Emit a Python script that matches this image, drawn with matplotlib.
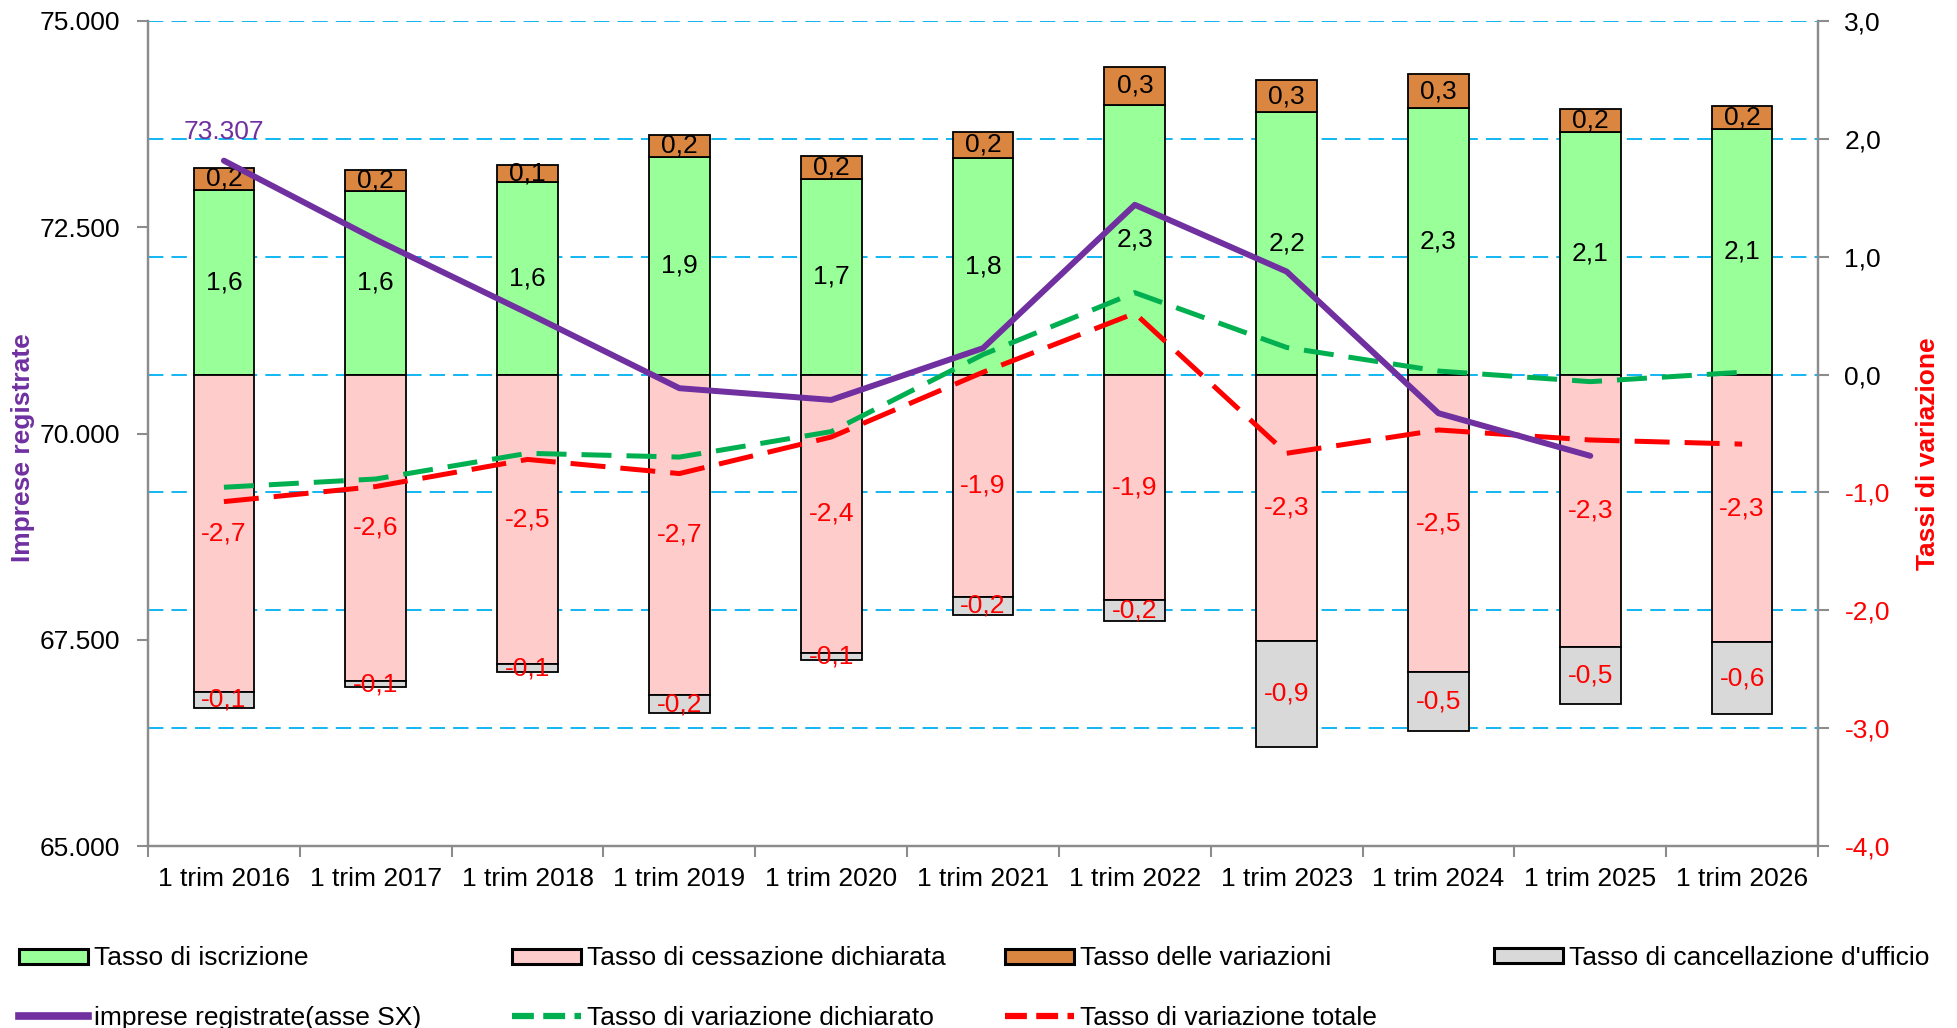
import numpy as np
import matplotlib.pyplot as plt
from matplotlib.lines import Line2D
from matplotlib.patches import Patch
from matplotlib.ticker import FuncFormatter, FixedLocator

plt.rcParams['font.family'] = ['Liberation Sans', 'DejaVu Sans']

# Data
periods = ['1 trim 2016', '1 trim 2017', '1 trim 2018', '1 trim 2019', '1 trim 2020',
           '1 trim 2021', '1 trim 2022', '1 trim 2023', '1 trim 2024', '1 trim 2025',
           '1 trim 2026']
iscrizione = [1.57, 1.56, 1.63, 1.85, 1.66, 1.84, 2.29, 2.23, 2.26, 2.06, 2.08]
variazioni = [0.18, 0.175, 0.145, 0.183, 0.195, 0.22, 0.317, 0.266, 0.288, 0.195, 0.2]
cessazione = [-2.69, -2.60, -2.46, -2.72, -2.36, -1.885, -1.91, -2.26, -2.52, -2.31, -2.27]
cancellazione = [-0.136, -0.054, -0.062, -0.155, -0.062, -0.155, -0.178, -0.90, -0.504, -0.486, -0.61]
imprese = [73307, 72350, 71460, 70549, 70407, 71034, 72772, 71963, 70246, 69729, np.nan]
var_dichiarato = [-0.956, -0.886, -0.668, -0.70, -0.484, 0.17, 0.695, 0.23, 0.03, -0.06, 0.02]
var_totale = [-1.078, -0.95, -0.72, -0.84, -0.53, 0.02, 0.52, -0.668, -0.47, -0.555, -0.59]

c_green = '#99FF99'
c_pink = '#FFCCCC'
c_orange = '#DA8640'
c_grey = '#D9D9D9'
c_purple = '#7030A0'
c_gline = '#00B050'
c_red = '#FF0000'
c_grid = '#00B0F0'
c_axis = '#8C8C8C'
fs = 19

def comma1(v, pos=None):
    return f'{v:.1f}'.replace('.', ',')

def thousands(v, pos=None):
    return f'{v:,.0f}'.replace(',', '.')

x = np.arange(len(periods))
w = 0.4

fig = plt.figure(figsize=(19.57, 10.28), dpi=100)
ax = fig.add_axes([148 / 1957, 1 - 846 / 1028, 1670 / 1957, 825 / 1028])
ax2 = ax.twinx()
ax.set_zorder(ax2.get_zorder() + 1)
ax.patch.set_visible(False)

# bars on the right axis
edge = dict(edgecolor='black', linewidth=1.3, zorder=3)
ax2.bar(x, iscrizione, w, color=c_green, **edge)
ax2.bar(x, variazioni, w, bottom=iscrizione, color=c_orange, **edge)
ax2.bar(x, cessazione, w, color=c_pink, **edge)
ax2.bar(x, cancellazione, w, bottom=cessazione, color=c_grey, **edge)

for i in range(len(periods)):
    ax2.text(x[i], iscrizione[i] / 2, comma1(iscrizione[i]), ha='center', va='center',
             fontsize=fs, color='black', zorder=5)
    ax2.text(x[i], iscrizione[i] + variazioni[i] / 2, comma1(variazioni[i]), ha='center',
             va='center', fontsize=fs, color='black', zorder=5)
    ax2.text(x[i], cessazione[i] / 2, comma1(cessazione[i]), ha='center', va='center',
             fontsize=fs, color=c_red, zorder=5)
    ax2.text(x[i], cessazione[i] + cancellazione[i] / 2, comma1(cancellazione[i]), ha='center',
             va='center', fontsize=fs, color=c_red, zorder=5)

# rate lines
ax2.plot(x, var_dichiarato, color=c_gline, lw=3.6, dashes=(6, 3), zorder=6)
ax2.plot(x, var_totale, color=c_red, lw=3.6, dashes=(7, 3), zorder=6)

# registered companies, left axis
ax.plot(x, imprese, color=c_purple, lw=4.3, zorder=7, solid_capstyle='round')
ax.annotate(thousands(imprese[0]), (x[0], imprese[0]), xytext=(0, 12),
            textcoords='offset points', ha='center', va='bottom', color=c_purple,
            fontsize=fs)

# axes setup
ax.set_xlim(-0.5, len(periods) - 0.5)
ax.set_ylim(65000, 75000)
ax.set_yticks(np.arange(65000, 75001, 2500))
ax.yaxis.set_major_formatter(FuncFormatter(thousands))
ax2.set_ylim(-4, 3)
ax2.set_yticks(np.arange(-4, 3.01, 1))
ax2.yaxis.set_major_formatter(FuncFormatter(comma1))

ax2.yaxis.grid(True, color=c_grid, linestyle=(0, (8.5, 4.5)), linewidth=1.3, zorder=0)
ax2.set_axisbelow(True)

ax.xaxis.set_major_locator(FixedLocator(np.arange(-0.5, len(periods), 1)))
ax.xaxis.set_minor_locator(FixedLocator(x))
ax.set_xticklabels([])
ax.set_xticklabels(periods, minor=True)
ax.tick_params(axis='x', which='major', length=8, width=1.5, color=c_axis, direction='out')
ax.tick_params(axis='x', which='minor', length=0, pad=15, labelsize=fs)
ax.tick_params(axis='y', length=8, width=1.5, color=c_axis, pad=12, labelsize=fs)
ax2.tick_params(axis='y', length=8, width=1.5, color=c_axis, pad=11, labelsize=fs)
for lbl, v in zip(ax2.get_yticklabels(), ax2.get_yticks()):
    lbl.set_color(c_red if v < 0 else 'black')

for a in (ax, ax2):
    a.spines['top'].set_visible(False)
    for s in ('left', 'right', 'bottom'):
        a.spines[s].set_color(c_axis)
        a.spines[s].set_linewidth(1.6)

fig.text(23 / 1957, 1 - 448 / 1028, 'Imprese registrate', rotation=90, ha='center',
         va='center', fontsize=fs, fontweight='bold', color=c_purple)
fig.text(1928 / 1957, 1 - 454 / 1028, 'Tassi di variazione', rotation=90, ha='center',
         va='center', fontsize=fs, fontweight='bold', color=c_red)

# legend, four columns placed like the original
def patch(c):
    return Patch(facecolor=c, edgecolor='black', linewidth=2.2)

columns = [
    ([patch(c_green), Line2D([], [], color=c_purple, lw=5.5)],
     ['Tasso di iscrizione', 'imprese registrate(asse SX)'], 19),
    ([patch(c_pink), Line2D([], [], color=c_gline, lw=4.5, dashes=(3.5, 1.5))],
     ['Tasso di cessazione dichiarata', 'Tasso di variazione dichiarato'], 512),
    ([patch(c_orange), Line2D([], [], color=c_red, lw=4.5, dashes=(3.5, 1.5))],
     ['Tasso delle variazioni', 'Tasso di variazione totale'], 1005),
    ([patch(c_grey)], ["Tasso di cancellazione d'ufficio"], 1494),
]
for handles, labels, left in columns:
    yc = 988 if len(handles) == 2 else 958
    fig.legend(handles, labels, loc='center left', bbox_to_anchor=(left / 1957, 1 - yc / 1028),
               frameon=False, fontsize=fs, handlelength=2.6, handleheight=0.5,
               handletextpad=0.25, labelspacing=1.33, borderpad=0, borderaxespad=0)

fig.savefig('out.png', dpi=100)
